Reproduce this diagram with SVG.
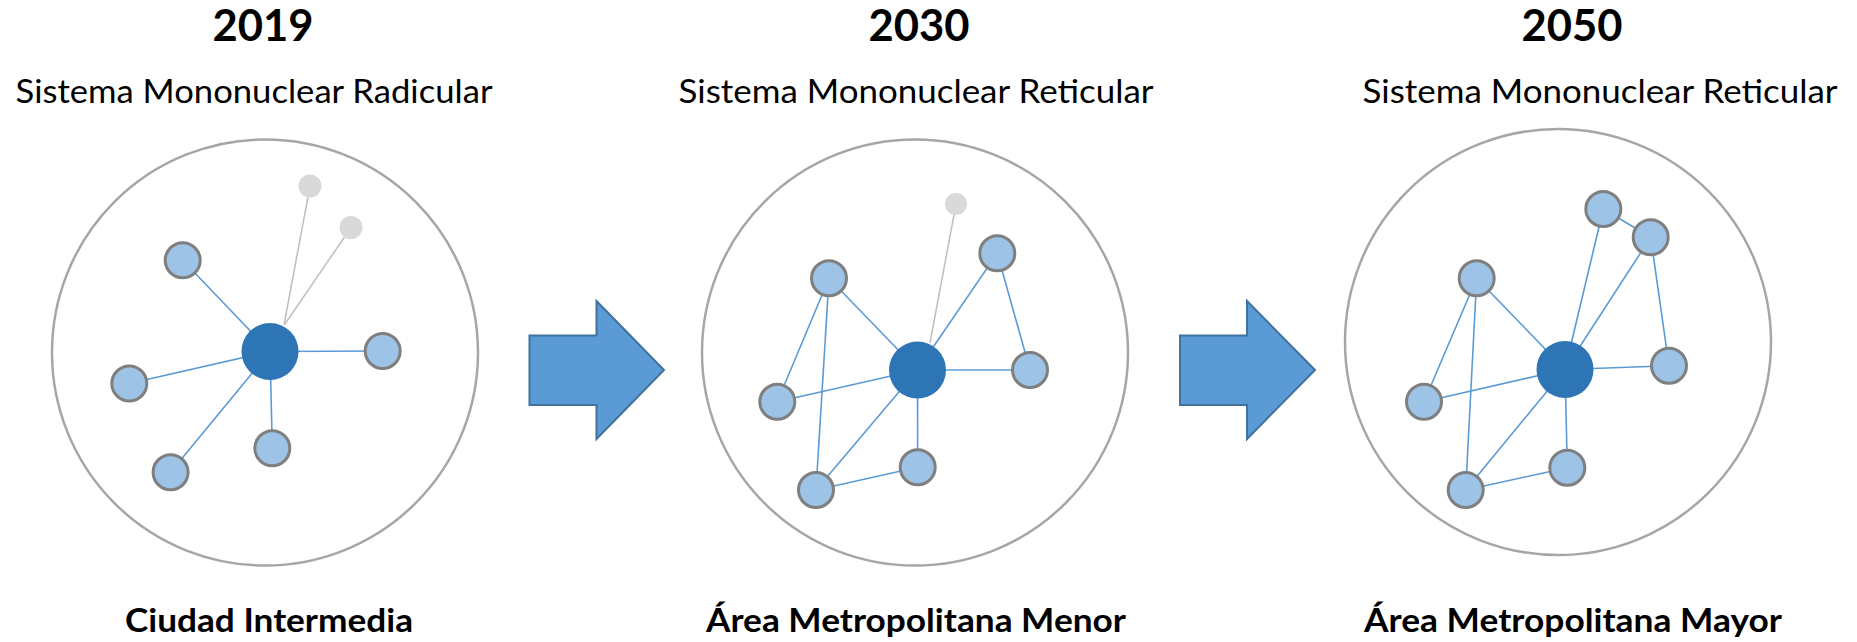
<svg xmlns="http://www.w3.org/2000/svg" width="1857" height="642" viewBox="0 0 1857 642">
<style>
.bg{fill:#ffffff}
.ring{fill:none;stroke:#A6A6A6;stroke-width:2.5}
.hub{fill:#2E75B6}
.node{fill:#9DC3E6;stroke:#7F7F7F;stroke-width:3}
.ghost{fill:#D9D9D9}
.edge{stroke:#5B9BD5;stroke-width:1.6;fill:none}
.gedge{stroke:#BFBFBF;stroke-width:1.5;fill:none}
.arrow{fill:#5B9BD5;stroke:#41719C;stroke-width:2;stroke-linejoin:miter}
.year{font-family:Lato,"Open Sans","Liberation Sans",sans-serif;font-weight:bold;font-size:44px;fill:#000;text-anchor:middle}
.sub{font-family:Lato,"Open Sans","Liberation Sans",sans-serif;font-size:33px;fill:#000;text-anchor:middle}
.lab{font-family:Lato,"Open Sans","Liberation Sans",sans-serif;font-weight:bold;font-size:32px;fill:#000;text-anchor:middle}
</style>
<rect class="bg" x="0" y="0" width="1857" height="642"/>

<g id="titles">
<text class="year" x="263" y="41" textLength="101" lengthAdjust="spacingAndGlyphs">2019</text>
<text class="sub" x="254" y="103" textLength="477" lengthAdjust="spacingAndGlyphs">Sistema Mononuclear Radicular</text>
<text class="lab" x="269" y="632" textLength="288" lengthAdjust="spacingAndGlyphs">Ciudad Intermedia</text>
<text class="year" x="919" y="41" textLength="101" lengthAdjust="spacingAndGlyphs">2030</text>
<text class="sub" x="916" y="103" textLength="475" lengthAdjust="spacingAndGlyphs">Sistema Mononuclear Reticular</text>
<text class="lab" x="916" y="632" textLength="420" lengthAdjust="spacingAndGlyphs">Área Metropolitana Menor</text>
<text class="year" x="1572" y="41" textLength="101" lengthAdjust="spacingAndGlyphs">2050</text>
<text class="sub" x="1600" y="103" textLength="475" lengthAdjust="spacingAndGlyphs">Sistema Mononuclear Reticular</text>
<text class="lab" x="1573" y="632" textLength="418" lengthAdjust="spacingAndGlyphs">Área Metropolitana Mayor</text>
</g>

<g id="rings">
<circle class="ring" cx="265" cy="352.5" r="213"/>
<circle class="ring" cx="915" cy="352.5" r="213"/>
<circle class="ring" cx="1558" cy="342" r="213"/>
</g>

<g id="arrows">
<polygon id="arrow1" class="arrow" points="529.5,335.5 596.5,335.5 596.5,301 664,370 596.5,439 596.5,405 529.5,405"/>
<polygon id="arrow2" class="arrow" points="1180,335.5 1247,335.5 1247,301 1315,370 1247,439 1247,405 1180,405"/>
</g>

<g id="connectors">
<line class="gedge" x1="284" y1="325" x2="310" y2="186"/>
<line class="gedge" x1="285" y1="324" x2="351" y2="227.5"/>
<line class="edge" x1="270" y1="351.5" x2="182.7" y2="260.2"/>
<line class="edge" x1="270" y1="351.5" x2="382.7" y2="351"/>
<line class="edge" x1="270" y1="351.5" x2="129.3" y2="383.5"/>
<line class="edge" x1="270" y1="351.5" x2="272.3" y2="448.3"/>
<line class="edge" x1="270" y1="351.5" x2="170.6" y2="472.3"/>
<line class="gedge" x1="930" y1="343" x2="956" y2="204"/>
<line class="edge" x1="829" y1="278.3" x2="777.3" y2="401.7"/>
<line class="edge" x1="829" y1="278.3" x2="816" y2="490"/>
<line class="edge" x1="829" y1="278.3" x2="917.5" y2="370"/>
<line class="edge" x1="917.5" y1="370" x2="997.3" y2="253.3"/>
<line class="edge" x1="997.3" y1="253.3" x2="1030" y2="370"/>
<line class="edge" x1="917.5" y1="370" x2="1030" y2="370"/>
<line class="edge" x1="917.5" y1="370" x2="777.3" y2="401.7"/>
<line class="edge" x1="917.5" y1="370" x2="816" y2="490"/>
<line class="edge" x1="917.5" y1="370" x2="917.7" y2="467.3"/>
<line class="edge" x1="816" y1="490" x2="917.7" y2="467.3"/>
<line class="edge" x1="1476.7" y1="278.3" x2="1424" y2="401.7"/>
<line class="edge" x1="1476.7" y1="278.3" x2="1465.7" y2="490"/>
<line class="edge" x1="1476.7" y1="278.3" x2="1565" y2="369.5"/>
<line class="edge" x1="1565" y1="369.5" x2="1603.3" y2="209"/>
<line class="edge" x1="1565" y1="369.5" x2="1650.7" y2="237.3"/>
<line class="edge" x1="1603.3" y1="209" x2="1650.7" y2="237.3"/>
<line class="edge" x1="1650.7" y1="237.3" x2="1669" y2="365.7"/>
<line class="edge" x1="1565" y1="369.5" x2="1669" y2="365.7"/>
<line class="edge" x1="1565" y1="369.5" x2="1424" y2="401.7"/>
<line class="edge" x1="1565" y1="369.5" x2="1465.7" y2="490"/>
<line class="edge" x1="1565" y1="369.5" x2="1567.3" y2="467.7"/>
<line class="edge" x1="1465.7" y1="490" x2="1567.3" y2="467.7"/>
</g>

<g id="panel1-nodes">
<circle id="p1-ghost1" class="ghost" cx="310" cy="186" r="11.5"/>
<circle id="p1-ghost2" class="ghost" cx="351" cy="227.5" r="11.5"/>
<circle id="p1-hub" class="hub" cx="270" cy="351.5" r="28.5"/>
<circle id="p1-n1" class="node" cx="182.7" cy="260.2" r="17.5"/>
<circle id="p1-n2" class="node" cx="382.7" cy="351" r="17.5"/>
<circle id="p1-n3" class="node" cx="129.3" cy="383.5" r="17.5"/>
<circle id="p1-n4" class="node" cx="272.3" cy="448.3" r="17.5"/>
<circle id="p1-n5" class="node" cx="170.6" cy="472.3" r="17.5"/>
</g>

<g id="panel2-nodes">
<circle id="p2-ghost" class="ghost" cx="956" cy="204" r="11"/>
<circle id="p2-hub" class="hub" cx="917.5" cy="370" r="28.5"/>
<circle id="p2-a" class="node" cx="829" cy="278.3" r="17.5"/>
<circle id="p2-b" class="node" cx="997.3" cy="253.3" r="17.5"/>
<circle id="p2-c" class="node" cx="1030" cy="370" r="17.5"/>
<circle id="p2-d" class="node" cx="777.3" cy="401.7" r="17.5"/>
<circle id="p2-e" class="node" cx="917.7" cy="467.3" r="17.5"/>
<circle id="p2-f" class="node" cx="816" cy="490" r="17.5"/>
</g>

<g id="panel3-nodes">
<circle id="p3-hub" class="hub" cx="1565" cy="369.5" r="28.5"/>
<circle id="p3-a" class="node" cx="1476.7" cy="278.3" r="17.5"/>
<circle id="p3-g" class="node" cx="1603.3" cy="209" r="17.5"/>
<circle id="p3-b" class="node" cx="1650.7" cy="237.3" r="17.5"/>
<circle id="p3-c" class="node" cx="1669" cy="365.7" r="17.5"/>
<circle id="p3-d" class="node" cx="1424" cy="401.7" r="17.5"/>
<circle id="p3-e" class="node" cx="1567.3" cy="467.7" r="17.5"/>
<circle id="p3-f" class="node" cx="1465.7" cy="490" r="17.5"/>
</g>
</svg>
